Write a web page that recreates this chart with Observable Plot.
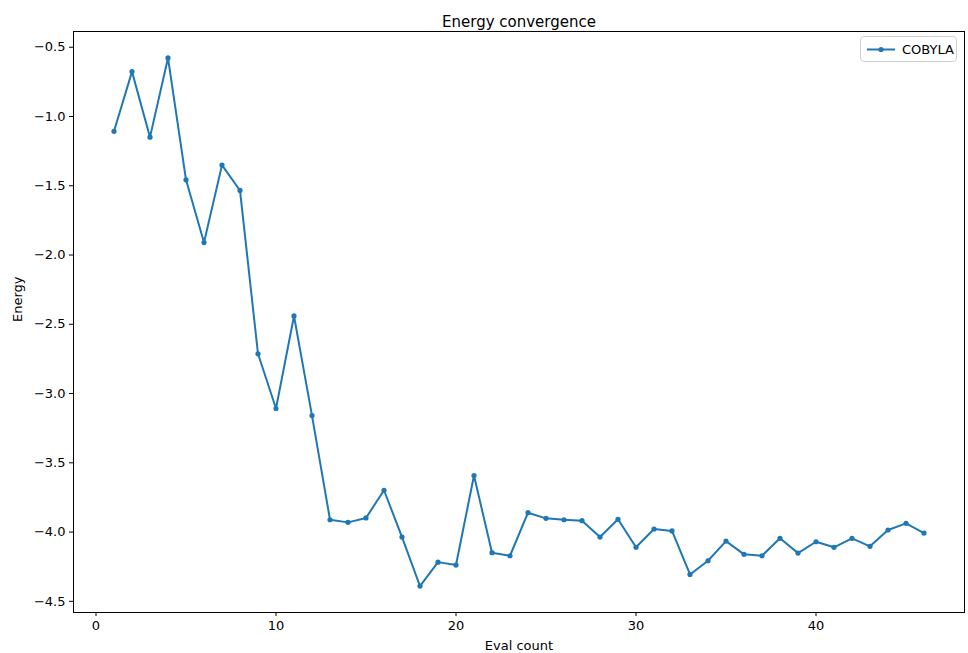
<!DOCTYPE html>
<html>
<head>
<meta charset="utf-8">
<script src="https://cdn.jsdelivr.net/npm/d3@7"></script>
<script src="https://cdn.jsdelivr.net/npm/@observablehq/plot@0.6"></script>
<style>
  html, body { margin: 0; padding: 0; background: #fff; }
  #wrap { position: relative; width: 968px; height: 653px; font-family: "DejaVu Sans", sans-serif; }
  #legend { position: absolute; left: 860px; top: 36px; width: 97px; height: 26px; border: 1px solid #d0d0d0; border-radius: 4px; background: rgba(255,255,255,0.8); box-sizing: border-box; }
  #legend svg { position: absolute; left: 0; top: 0; }
  #legend span { position: absolute; left: 41px; top: 5px; font-size: 13px; color: #000; }
</style>
</head>
<body>
<div id="wrap">
  <div id="chart"></div>
  <div id="legend">
    <svg width="40" height="26"><line x1="6" x2="34" y1="12.5" y2="12.5" stroke="#1f77b4" stroke-width="2"/><circle cx="20" cy="12.5" r="2.6" fill="#1f77b4"/></svg>
    <span>COBYLA</span>
  </div>
</div>
<script>
const evalCount = d3.range(1, 47);
const energy = [
  -1.107, -0.676, -1.149, -0.577, -1.457, -1.910, -1.351, -1.534, -2.713, -3.108,
  -2.440, -3.159, -3.911, -3.930, -3.898, -3.698, -4.036, -4.390, -4.217, -4.238,
  -3.592, -4.149, -4.171, -3.860, -3.901, -3.911, -3.918, -4.036, -3.908, -4.110,
  -3.978, -3.992, -4.306, -4.207, -4.065, -4.161, -4.171, -4.045, -4.152, -4.070,
  -4.110, -4.045, -4.103, -3.985, -3.937, -4.007
];
const xTicks = [0, 10, 20, 30, 40];
const yTicks = [-0.5, -1.0, -1.5, -2.0, -2.5, -3.0, -3.5, -4.0, -4.5];
const titleText = "Energy convergence";
const xLabel = "Eval count";
const yLabel = "Energy";
const seriesName = "COBYLA";

const data = evalCount.map((x, i) => ({x, y: energy[i]}));
const xMin = d3.min(evalCount), xMax = d3.max(evalCount);
const yMin = d3.min(energy), yMax = d3.max(energy);
const xPad = (xMax - xMin) * 0.05, yPad = (yMax - yMin) * 0.05;
const color = "#1f77b4";

const chart = Plot.plot({
  width: 968,
  height: 653,
  marginLeft: 73,
  marginRight: 4,
  marginTop: 31,
  marginBottom: 41,
  style: {fontFamily: "DejaVu Sans, sans-serif", fontSize: "13px", color: "#000", background: "#fff"},
  x: {domain: [xMin - xPad, xMax + xPad]},
  y: {domain: [yMin - yPad, yMax + yPad]},
  marks: [
    Plot.frame({stroke: "#000", strokeWidth: 1}),
    Plot.axisX({ticks: xTicks, tickFormat: d3.format("d"), tickSize: 4, tickPadding: 4, fontSize: 13, label: null}),
    Plot.axisY({ticks: yTicks, tickFormat: d3.format(".1f"), tickSize: 4, tickPadding: 4, fontSize: 13, label: null}),
    Plot.text([xLabel], {frameAnchor: "bottom", dy: 33, fontSize: 13, text: d => d, lineAnchor: "middle"}),
    Plot.text([yLabel], {frameAnchor: "left", dx: -56, rotate: -90, fontSize: 13, text: d => d}),
    Plot.text([titleText], {frameAnchor: "top", dy: -15, fontSize: 15, text: d => d}),
    Plot.line(data, {x: "x", y: "y", stroke: color, strokeWidth: 2}),
    Plot.dot(data, {x: "x", y: "y", fill: color, r: 2.6})
  ]
});
document.getElementById("chart").appendChild(chart);
</script>
</body>
</html>
